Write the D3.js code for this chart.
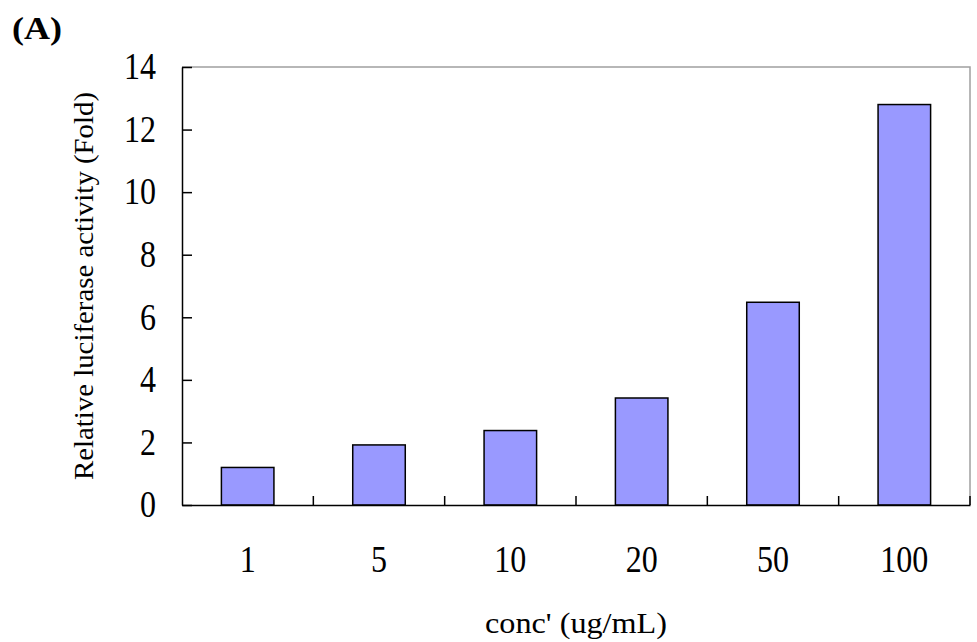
<!DOCTYPE html>
<html lang="en">
<head>
  <meta charset="UTF-8">
  <title>Relative luciferase activity</title>
  <script src="https://cdn.jsdelivr.net/npm/d3@7"></script>
  <style>
    body { margin: 0; background: #fff; }
    svg { display: block; }
    text { font-family: "Liberation Serif", "Times New Roman", serif; fill: #000; }
  </style>
</head>
<body>
  <div id="chart"></div>
  <script>
    const categories = ['1', '5', '10', '20', '50', '100']
    const values = [1.2, 1.92, 2.38, 3.42, 6.48, 12.8]
    const yTicks = [0, 2, 4, 6, 8, 10, 12, 14]

    const width = 977
    const height = 642
    const margin = { top: 67, right: 7, bottom: 137, left: 182 }
    const digitWidth = 16

    const svg = d3.select('#chart')
      .append('svg')
      .attr('width', width)
      .attr('height', height)

    const x = d3.scaleBand()
      .domain(categories)
      .range([margin.left, width - margin.right])
      .paddingInner(0.6)
      .paddingOuter(0.3)

    const y = d3.scaleLinear()
      .domain([0, 14])
      .range([height - margin.bottom, margin.top])

    // gray frame on top and right
    svg.append('path')
      .attr('d', `M${margin.left},${y(14)}H${width - margin.right}V${y(0)}`)
      .attr('fill', 'none')
      .attr('stroke', '#a0a0a0')
      .attr('stroke-width', 1.5)

    svg.selectAll('rect.bar')
      .data(values)
      .enter()
      .append('rect')
      .attr('class', 'bar')
      .attr('x', (d, i) => x(categories[i]))
      .attr('y', d => y(d))
      .attr('width', x.bandwidth())
      .attr('height', d => y(0) - y(d))
      .attr('fill', '#9999ff')
      .attr('stroke', '#000')
      .attr('stroke-width', 1.5)

    // y axis, ticks pointing inward
    const yAxis = svg.append('g')
      .attr('transform', `translate(${margin.left},0)`)
      .call(d3.axisLeft(y).tickValues(yTicks).tickSizeInner(-10).tickSizeOuter(0).tickPadding(26))
    yAxis.select('.domain').attr('stroke', '#000').attr('stroke-width', 1.5)
    yAxis.selectAll('.tick line').attr('stroke', '#000').attr('stroke-width', 1.5)
    yAxis.selectAll('.tick text')
      .attr('font-family', '"Liberation Serif", serif')
      .attr('font-size', 37)
      .attr('textLength', d => String(d).length * digitWidth)
      .attr('lengthAdjust', 'spacingAndGlyphs')

    // x axis: labels under each bar, ticks between categories
    const xAxis = svg.append('g')
      .attr('transform', `translate(0,${y(0)})`)
      .call(d3.axisBottom(x).tickSize(0).tickPadding(41))
    xAxis.select('.domain').attr('stroke', '#000').attr('stroke-width', 1.5)
    xAxis.selectAll('.tick text')
      .attr('font-family', '"Liberation Serif", serif')
      .attr('font-size', 37)
      .attr('textLength', d => d.length * digitWidth)
      .attr('lengthAdjust', 'spacingAndGlyphs')
    xAxis.selectAll('line.sep')
      .data(categories)
      .enter()
      .append('line')
      .attr('class', 'sep')
      .attr('x1', d => x(d) + x.bandwidth() + x.step() * x.paddingOuter())
      .attr('x2', d => x(d) + x.bandwidth() + x.step() * x.paddingOuter())
      .attr('y1', 0)
      .attr('y2', -9)
      .attr('stroke', '#000')
      .attr('stroke-width', 1.5)

    svg.append('text')
      .attr('x', 12)
      .attr('y', 39)
      .attr('font-size', 32)
      .attr('font-weight', 'bold')
      .attr('textLength', 50)
      .attr('lengthAdjust', 'spacingAndGlyphs')
      .text('(A)')

    svg.append('text')
      .attr('transform', `translate(93,${(y(0) + y(14)) / 2}) rotate(-90)`)
      .attr('text-anchor', 'middle')
      .attr('font-size', 27)
      .attr('textLength', 388)
      .attr('lengthAdjust', 'spacingAndGlyphs')
      .text('Relative luciferase activity (Fold)')

    svg.append('text')
      .attr('x', (x.range()[0] + x.range()[1]) / 2)
      .attr('y', 633)
      .attr('text-anchor', 'middle')
      .attr('font-size', 29)
      .attr('textLength', 182)
      .attr('lengthAdjust', 'spacingAndGlyphs')
      .text("conc' (ug/mL)")
  </script>
</body>
</html>
